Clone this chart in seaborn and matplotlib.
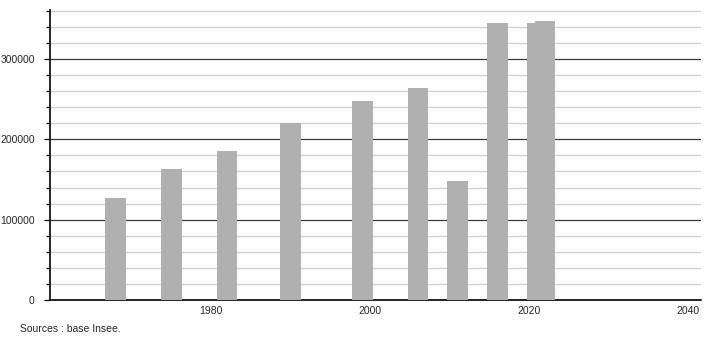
import matplotlib
matplotlib.use("Agg")
import matplotlib.pyplot as plt
from matplotlib.ticker import MultipleLocator
import seaborn as sns
import pandas as pd

years = [1968, 1975, 1982, 1990, 1999, 2006, 2011, 2016, 2021, 2022]
values = [127500, 163300, 185000, 220400, 247500, 263300, 148700, 345000, 345000, 346800]
x_ticks = [1980, 2000, 2020, 2040]
y_ticks = [0, 100000, 200000, 300000]
source_text = "Sources : base Insee."

sns.set_style("white")
plt.rcParams['font.family'] = ['Liberation Sans', 'DejaVu Sans']

df = pd.DataFrame({"year": years, "value": values})

fig = plt.figure(figsize=(7.1, 3.4), dpi=100)
ax = fig.add_axes([50 / 710, 40 / 340, 651 / 710, 290 / 340])

sns.barplot(data=df, x="year", y="value", native_scale=True, width=2.6,
            color="#b0b0b0", saturation=1, ax=ax, zorder=3, edgecolor="none")

ax.set_xlim(1959.75, 2041.6)
ax.set_ylim(0, 361000)
ax.set_xticks(x_ticks)
ax.set_xticklabels([str(t) for t in x_ticks])
ax.set_yticks(y_ticks)
ax.set_yticklabels([str(t) for t in y_ticks])
ax.yaxis.set_minor_locator(MultipleLocator(20000))

ax.grid(which="major", axis="y", color="#3a3a3a", linewidth=0.9, zorder=1)
ax.grid(which="minor", axis="y", color="#cfcfcf", linewidth=0.9, zorder=0)
ax.grid(False, axis="x")
ax.set_axisbelow(True)

for s in ["top", "right"]:
    ax.spines[s].set_visible(False)
ax.spines["left"].set_color("black")
ax.spines["bottom"].set_color("black")
ax.spines["left"].set_linewidth(1.2)
ax.spines["bottom"].set_linewidth(1.2)

ax.tick_params(axis="y", which="major", direction="out", length=4, width=0.9,
               color="black", labelsize=7.5, pad=7, left=True)
ax.tick_params(axis="y", which="minor", direction="out", length=3, width=0.9,
               color="black", left=True)
ax.tick_params(axis="x", which="both", length=0, labelsize=7.5, pad=4)
ax.set_xlabel("")
ax.set_ylabel("")

fig.text(20 / 710, 1 - 329 / 340, source_text, fontsize=7.5, va="center", ha="left")

fig.savefig("out.png", dpi=100)
